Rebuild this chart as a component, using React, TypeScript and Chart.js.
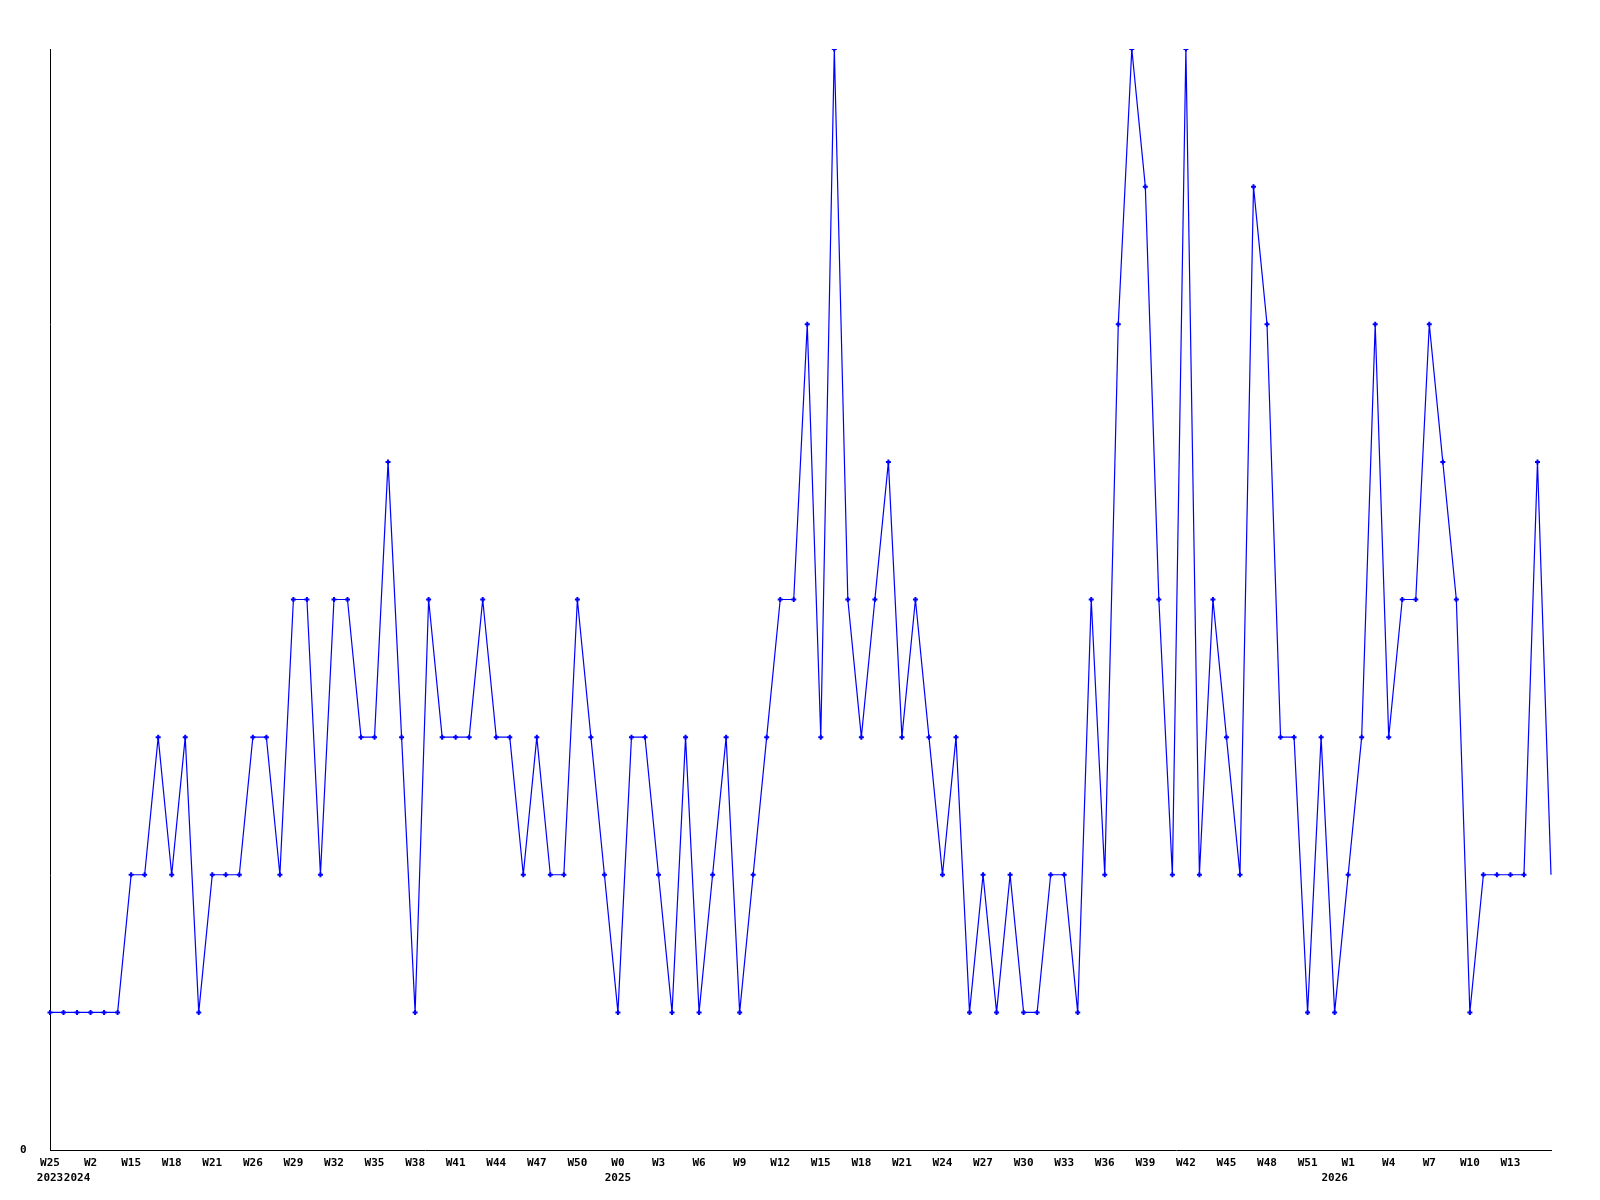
import React, { useEffect, useRef } from "react";
import { Chart, registerables } from "chart.js";

Chart.register(...registerables);

// Values per point (weekly counts)
const values: number[] = [
  1, 1, 1, 1, 1, 1, 2, 2, 3, 2,
  3, 1, 2, 2, 2, 3, 3, 2, 4, 4,
  2, 4, 4, 3, 3, 5, 3, 1, 4, 3,
  3, 3, 4, 3, 3, 2, 3, 2, 2, 4,
  3, 2, 1, 3, 3, 2, 1, 3, 1, 2,
  3, 1, 2, 3, 4, 4, 6, 3, 8, 4,
  3, 4, 5, 3, 4, 3, 2, 3, 1, 2,
  1, 2, 1, 1, 2, 2, 1, 4, 2, 6,
  8, 7, 4, 2, 8, 2, 4, 3, 2, 7,
  6, 3, 3, 1, 3, 1, 2, 3, 6, 3,
  4, 4, 6, 5, 4, 1, 2, 2, 2, 2,
  5, 2,
];

// Week tick labels, shown on every third point
const weekTicks: string[] = [
  "W25", "W2", "W15", "W18", "W21", "W26", "W29", "W32", "W35", "W38",
  "W41", "W44", "W47", "W50", "W0", "W3", "W6", "W9", "W12", "W15",
  "W18", "W21", "W24", "W27", "W30", "W33", "W36", "W39", "W42", "W45",
  "W48", "W51", "W1", "W4", "W7", "W10", "W13",
];
const weekTickEvery = 3;

// Year labels: point index -> year
const yearIndex: number[] = [0, 2, 42, 95];
const yearText: string[] = ["2023", "2024", "2025", "2026"];

const yMax = 8;

function buildLabels(): (string | string[])[] {
  return values.map((_, i) => {
    const w = i % weekTickEvery === 0 ? weekTicks[i / weekTickEvery] ?? "" : "";
    const yi = yearIndex.indexOf(i);
    if (yi >= 0) return [w, yearText[yi]];
    return w;
  });
}

export default function App() {
  const ref = useRef<HTMLCanvasElement | null>(null);

  useEffect(() => {
    if (!ref.current) return;
    const font = {
      family: "'DejaVu Sans Mono', monospace",
      size: 11,
      weight: "bold" as const,
      lineHeight: 15 / 11,
    };
    const last = values.length - 1;
    const chart = new Chart(ref.current, {
      type: "line",
      data: {
        labels: buildLabels(),
        datasets: [
          {
            data: values,
            borderColor: "#0000ff",
            backgroundColor: "#0000ff",
            borderWidth: 1.2,
            tension: 0,
            fill: false,
            pointStyle: "cross",
            pointRadius: (ctx: any) => (ctx.dataIndex === last ? 0 : 2.5),
            pointBorderWidth: 2,
            pointBorderColor: "#0000ff",
            pointBackgroundColor: "#0000ff",
          },
        ],
      },
      options: {
        animation: false,
        responsive: false,
        layout: { padding: { left: 20, right: 49, top: 49, bottom: 0 } },
        plugins: {
          legend: { display: false },
          tooltip: { enabled: false },
        },
        scales: {
          x: {
            type: "category",
            offset: false,
            grid: { display: false },
            border: { display: true, color: "#000000", width: 1 },
            ticks: {
              autoSkip: false,
              maxRotation: 0,
              minRotation: 0,
              color: "#000000",
              font,
              padding: -2,
            },
            afterFit: (scale: any) => {
              scale.height = 50;
            },
          },
          y: {
            min: 0,
            max: yMax,
            grid: { display: false },
            border: { display: true, color: "#000000", width: 1 },
            ticks: {
              stepSize: 1,
              color: "#000000",
              font,
              crossAlign: "far",
              callback: (v: any) => (Number(v) === 0 ? "0" : ""),
            },
            afterFit: (scale: any) => {
              scale.width = 30;
            },
          },
        },
      },
    });
    return () => chart.destroy();
  }, []);

  return (
    <div style={{ position: "absolute", left: 0, top: 0, width: 1600, height: 1200, background: "#ffffff" }}>
      <canvas ref={ref} width={1600} height={1200} style={{ display: "block" }} />
    </div>
  );
}
